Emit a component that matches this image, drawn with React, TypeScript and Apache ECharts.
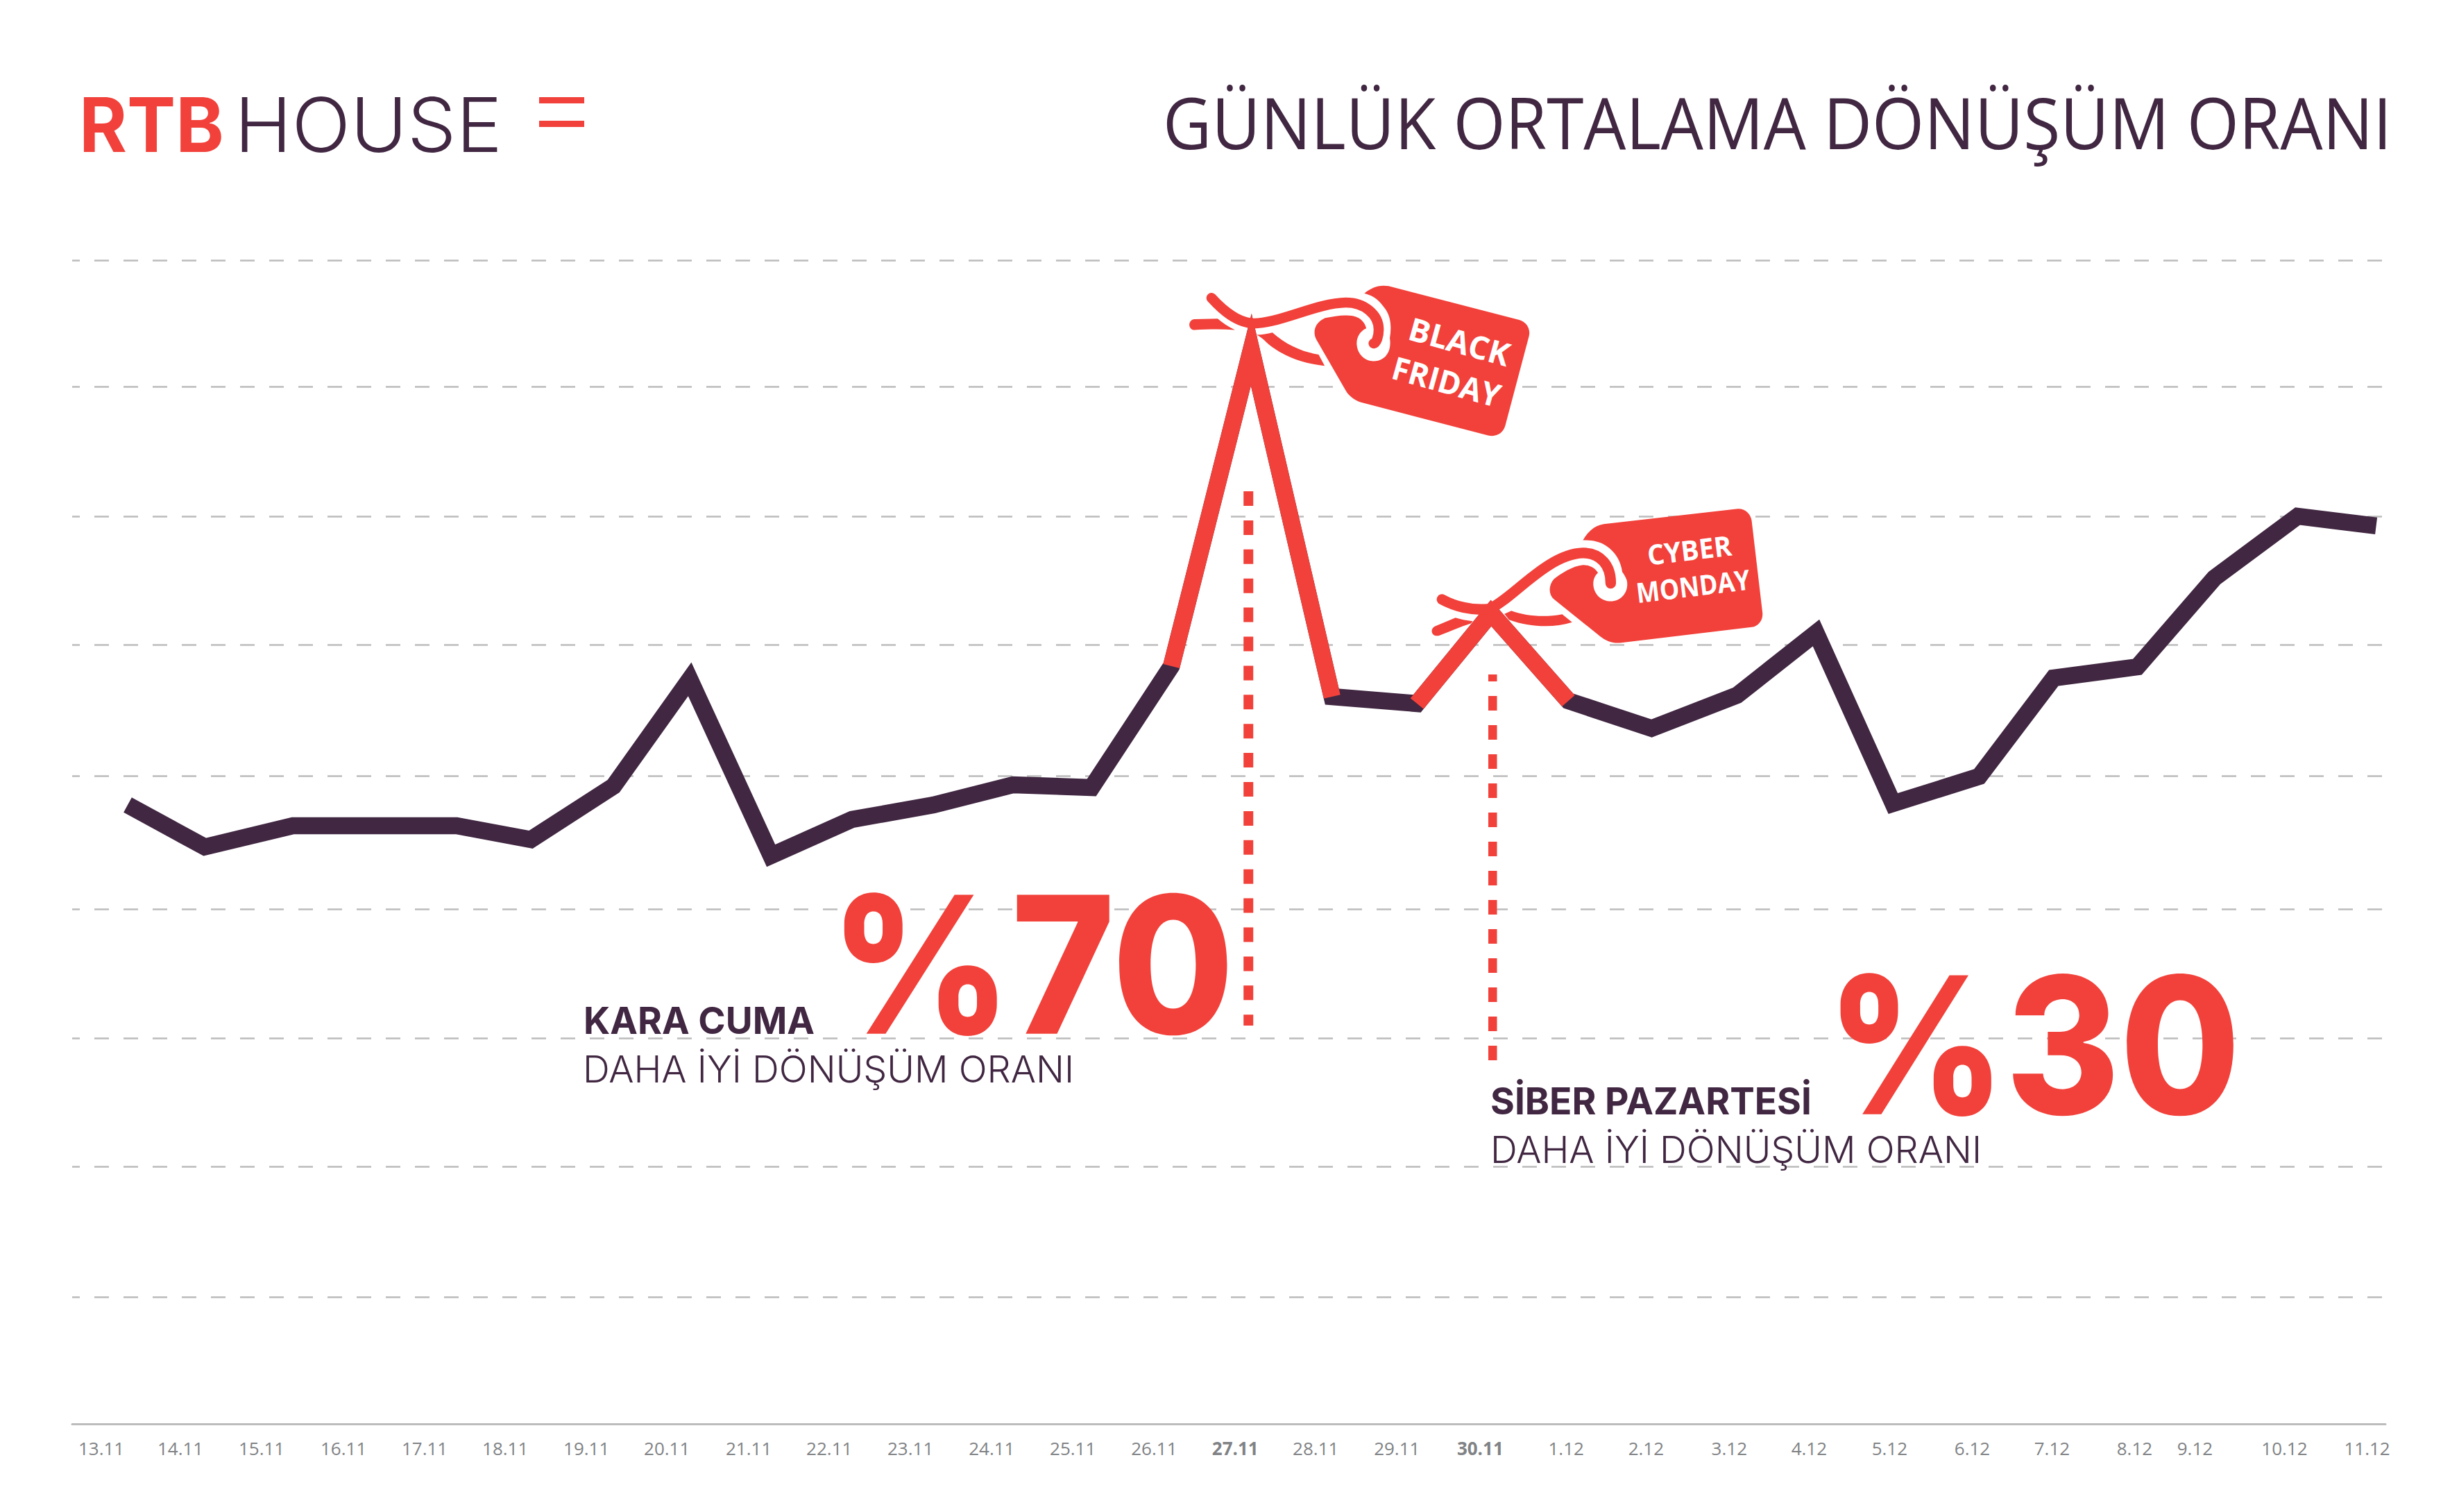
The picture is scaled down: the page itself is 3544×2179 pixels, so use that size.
import React, { useEffect, useRef } from "react";
import * as echarts from "echarts";

const W = 3544;
const H = 2179;
const RED = "#f2413a";
const DARK = "#412742";
const GRID = "#bcbcbc";
const AXIS_TEXT = "#808285";

// Category labels and where they stand on the day scale (the reference spaces them slightly unevenly)
const dateLabels = ["13.11","14.11","15.11","16.11","17.11","18.11","19.11","20.11","21.11","22.11","23.11","24.11","25.11","26.11","27.11","28.11","29.11","30.11","1.12","2.12","3.12","4.12","5.12","6.12","7.12","8.12","9.12","10.12","11.12"];
const labelDays = [0,0.979,1.984,2.998,4.002,4.999,6.004,7.0,8.013,9.01,10.014,11.02,12.024,13.03,14.034,15.03,16.035,17.066,18.13,19.119,20.149,21.137,22.133,23.156,24.143,25.165,25.912,27.02,28.043];
const boldLabels = ["27.11", "30.11"];

// Line: day position and value of each point (the y axis is unlabelled)
const pointDays = [0.326,1.28,2.37,3.384,4.397,5.316,6.339,7.283,8.288,9.293,10.298,11.286,12.256,13.244,14.232,15.232,16.284,17.2,18.157,19.187,20.244,21.223,22.176,23.241,24.164,25.2,26.153,27.183,28.155];
const conversion = [47.87,44.62,46.26,46.26,46.26,45.19,49.32,57.59,43.95,46.75,47.87,49.43,49.21,58.6,83.08,56.24,55.71,62.7,55.92,53.79,56.35,61.18,47.98,50.07,57.69,58.55,65.42,70.2,69.45];
const gridValues = [9.82,19.91,29.84,39.83,50.13,60.28,70.2,80.2,90];
const blackFridayDrop = [[14.197,72.13],[14.197,30.81]];
const cyberMondayDrop = [[17.22,28.12],[17.22,57.96]];

const DAY_MIN = -0.361;
const DAY_MAX = 28.27;

echarts.graphic.registerShape("bfBody", echarts.graphic.extendPath("M800 68C830 45 860 30 905 37L1470 183C1505 193 1520 225 1512 255L1410 640C1400 675 1370 692 1335 683L785 540C755 530 730 510 717 485L592 268C575 235 585 195 630 175C680 165 740 155 775 175C795 187 805 205 808 220C780 232 765 260 767 290C770 335 805 362 840 362C885 362 920 325 910 262C918 215 915 170 890 135C865 100 845 80 800 68Z", {}));
echarts.graphic.registerShape("bfString", echarts.graphic.extendPath("M138 88C190 145 245 190 310 198C420 205 590 110 720 108C800 108 862 160 862 225C862 255 852 283 840 285", {}));
echarts.graphic.registerShape("bfStrands", echarts.graphic.extendPath("M65 180L165 178C185 195 210 212 240 227C180 222 120 224 65 227C35 227 35 182 65 180ZM333 248C360 247 380 243 402 238C460 290 530 322 602 333L628 382C530 372 450 340 385 288C370 275 355 258 333 248Z", {}));
echarts.graphic.registerShape("cmBody", echarts.graphic.extendPath("M695 176C715 140 745 112 785 106L1365 40C1395 38 1420 60 1425 90L1472 490C1475 520 1455 548 1425 552L855 620C825 623 795 612 770 592L570 432C545 410 545 370 570 343C600 320 650 287 695 283C725 283 748 297 760 317C745 330 738 350 740 372C745 415 780 440 815 440C860 440 895 400 885 350C880 335 872 322 865 313C860 270 835 225 795 200C765 180 730 175 695 176Z", {}));
echarts.graphic.registerShape("cmString", echarts.graphic.extendPath("M85 432C140 462 215 482 290 473C390 430 540 235 695 231C770 230 816 285 815 362", {}));
echarts.graphic.registerShape("cmStrands", echarts.graphic.extendPath("M55 548L143 511C165 518 190 523 218 526L210 536C165 550 120 570 70 589C40 595 30 560 55 548ZM355 495L385 481C450 505 530 510 605 496L648 531C560 558 460 550 375 520Z", {}));

const CENTRAL: Record<string, number> = { Inter: 0.364, "Open Sans": 0.388 };

function fitText(text: string, x: number, baseline: number, width: number, family: string, weight: number, size: number, fill: string, angleDeg = 0) {
  const ctx = document.createElement("canvas").getContext("2d")!;
  ctx.font = `${weight} ${size}px "${family}"`;
  const scaleX = width / ctx.measureText(text).width;
  return {
    type: "text",
    z: 100,
    x,
    y: baseline,
    scaleX,
    rotation: (-angleDeg * Math.PI) / 180,
    style: { text, x: 0, y: -CENTRAL[family] * size, align: "left", verticalAlign: "middle", fontFamily: family, fontWeight: weight, fontSize: size, fill },
  };
}

function shape(type: string, x: number, y: number, style: any) {
  return { type, z: 99, x, y, scaleX: 1 / 3, scaleY: 1 / 3, style };
}

export default function App() {
  const ref = useRef<HTMLDivElement>(null);
  useEffect(() => {
    document.body.style.margin = "0";
    const chart = echarts.init(ref.current!, undefined, { renderer: "svg" });
    const toPoints = (from: number, to: number) => pointDays.slice(from, to + 1).map((d, i) => [d, conversion[from + i]]);
    const stringStyle = { fill: "none", stroke: RED, lineWidth: 44, lineCap: "round" };
    const stringStyle2 = { fill: "none", stroke: RED, lineWidth: 46, lineCap: "round" };

    chart.setOption({
      animation: false,
      backgroundColor: "#ffffff",
      grid: { left: 104, right: W - 3438, top: 375, bottom: H - 2052, containLabel: false },
      xAxis: {
        type: "value",
        min: DAY_MIN,
        max: DAY_MAX,
        splitLine: { show: false },
        axisTick: { show: false },
        axisLine: { show: true, lineStyle: { color: GRID, width: 3 } },
        axisLabel: {
          show: true,
          customValues: labelDays,
          margin: 22,
          color: AXIS_TEXT,
          fontFamily: "Open Sans",
          fontSize: 26,
          formatter: (v: number) => {
            const l = dateLabels[labelDays.indexOf(v)];
            return boldLabels.includes(l) ? `{b|${l}}` : `{n|${l}}`;
          },
          rich: {
            n: { fontFamily: "Open Sans", fontSize: 26, color: AXIS_TEXT },
            b: { fontFamily: "Open Sans", fontSize: 26, fontWeight: 700, color: AXIS_TEXT },
          },
        },
      },
      yAxis: {
        type: "value",
        min: 0,
        max: 90,
        axisLine: { show: false },
        axisLabel: { show: false },
        axisTick: { show: false, customValues: gridValues },
        splitLine: { show: true, lineStyle: { color: GRID, width: 2.5, type: [21, 21], dashOffset: 10 } },
      },
      series: [
        { type: "line", name: "Günlük", data: toPoints(0, 28), symbol: "none", clip: false, lineStyle: { color: DARK, width: 24.5, cap: "butt", join: "miter", miterLimit: 30 } },
        { type: "line", name: "Black Friday", data: toPoints(13, 15), symbol: "none", clip: false, lineStyle: { color: RED, width: 24.5, cap: "butt", join: "miter", miterLimit: 30 } },
        { type: "line", name: "Cyber Monday", data: toPoints(16, 18), symbol: "none", clip: false, lineStyle: { color: RED, width: 24.5, cap: "butt", join: "miter", miterLimit: 30 } },
        { type: "line", name: "BF drop", data: blackFridayDrop, symbol: "none", lineStyle: { color: RED, width: 14, type: [21, 20.9], cap: "butt" } },
        { type: "line", name: "CM drop", data: cyberMondayDrop, symbol: "none", lineStyle: { color: RED, width: 12.5, type: [21, 21], cap: "butt" } },
      ],
      graphic: {
        elements: [
          fitText("RTB", 114, 219, 209, "Inter", 700, 108, RED),
          fitText("HOUSE", 338, 219, 386, "Inter", 300, 108, DARK),
          { type: "rect", z: 99, shape: { x: 777, y: 140, width: 65, height: 9 }, style: { fill: RED } },
          { type: "rect", z: 99, shape: { x: 777, y: 174, width: 65, height: 9 }, style: { fill: RED } },
          fitText("GÜNLÜK ORTALAMA DÖNÜŞÜM ORANI", 1676, 215, 1771, "Open Sans", 400, 102, DARK),

          fitText("KARA CUMA", 841, 1490, 333, "Inter", 700, 54, DARK),
          fitText("DAHA İYİ DÖNÜŞÜM ORANI", 840, 1560, 708, "Inter", 300, 54, DARK),
          fitText("%70", 1196, 1490, 583, "Inter", 800, 275, RED),
          fitText("SİBER PAZARTESİ", 2148, 1606, 463, "Inter", 700, 54, DARK),
          fitText("DAHA İYİ DÖNÜŞÜM ORANI", 2148, 1676, 708, "Inter", 300, 54, DARK),
          fitText("%30", 2632, 1606, 597, "Inter", 800, 275, RED),

          shape("bfStrands", 1700, 400, { fill: RED }),
          shape("bfBody", 1700, 400, { fill: RED }),
          shape("bfString", 1700, 400, stringStyle),
          fitText("BLACK", 2027, 489, 149, "Open Sans", 700, 46, "#ffffff", 15.5),
          fitText("FRIDAY", 2003, 545, 160, "Open Sans", 700, 46, "#ffffff", 15.5),

          shape("cmStrands", 2050, 720, { fill: RED }),
          shape("cmBody", 2050, 720, { fill: RED }),
          shape("cmString", 2050, 720, stringStyle2),
          fitText("CYBER", 2376, 815, 122, "Open Sans", 700, 40, "#ffffff", -6.9),
          fitText("MONDAY", 2360, 869, 165, "Open Sans", 700, 40, "#ffffff", -6.9),
        ],
      },
    });
    return () => chart.dispose();
  }, []);
  return <div ref={ref} style={{ position: "absolute", left: 0, top: 0, width: W, height: H }} />;
}
